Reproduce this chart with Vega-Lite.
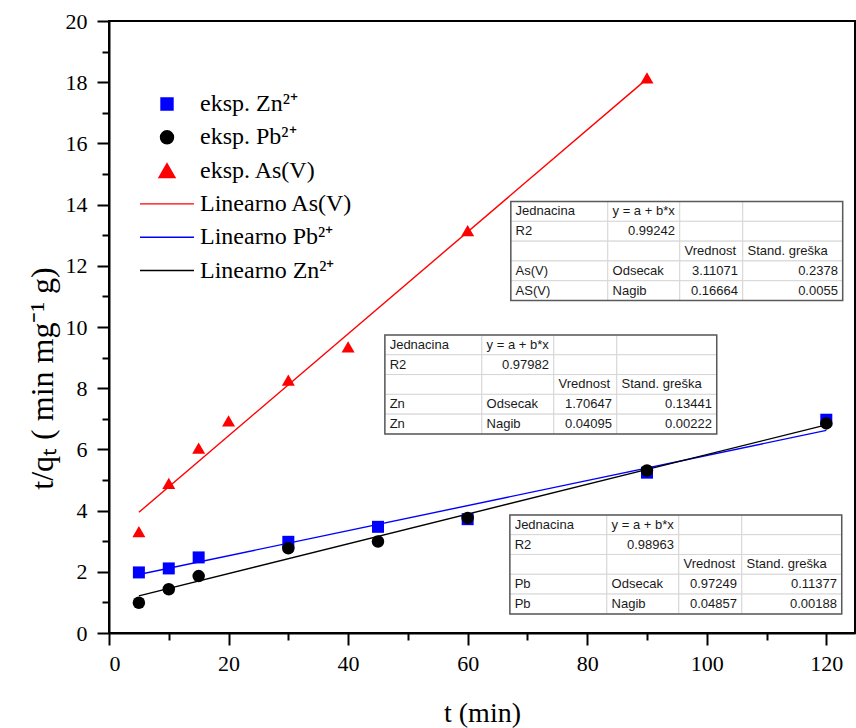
{
  "$schema": "https://vega.github.io/schema/vega-lite/v6.json",
  "width": 746,
  "height": 612,
  "autosize": {"type": "none"},
  "padding": {"left": 109, "top": 21, "right": 1, "bottom": 95},
  "background": "white",
  "datasets": {
    "pts": [
      {"series": "eksp. Zn²⁺", "t": 5, "q": 1.98},
      {"series": "eksp. Zn²⁺", "t": 10, "q": 2.11},
      {"series": "eksp. Zn²⁺", "t": 15, "q": 2.47},
      {"series": "eksp. Zn²⁺", "t": 30, "q": 2.98},
      {"series": "eksp. Zn²⁺", "t": 45, "q": 3.47},
      {"series": "eksp. Zn²⁺", "t": 60, "q": 3.72},
      {"series": "eksp. Zn²⁺", "t": 90, "q": 5.24},
      {"series": "eksp. Zn²⁺", "t": 120, "q": 6.97},
      {"series": "eksp. Pb²⁺", "t": 5, "q": 0.99},
      {"series": "eksp. Pb²⁺", "t": 10, "q": 1.43},
      {"series": "eksp. Pb²⁺", "t": 15, "q": 1.86},
      {"series": "eksp. Pb²⁺", "t": 30, "q": 2.77},
      {"series": "eksp. Pb²⁺", "t": 45, "q": 2.99},
      {"series": "eksp. Pb²⁺", "t": 60, "q": 3.76},
      {"series": "eksp. Pb²⁺", "t": 90, "q": 5.31},
      {"series": "eksp. Pb²⁺", "t": 120, "q": 6.85},
      {"series": "eksp. As(V)", "t": 5, "q": 3.31},
      {"series": "eksp. As(V)", "t": 10, "q": 4.89},
      {"series": "eksp. As(V)", "t": 15, "q": 6.04},
      {"series": "eksp. As(V)", "t": 20, "q": 6.93},
      {"series": "eksp. As(V)", "t": 30, "q": 8.26},
      {"series": "eksp. As(V)", "t": 40, "q": 9.35},
      {"series": "eksp. As(V)", "t": 60, "q": 13.15},
      {"series": "eksp. As(V)", "t": 90, "q": 18.14}
    ],
    "fits": [
      {"series": "Linearno As(V)", "t": 5, "q": 3.9439},
      {"series": "Linearno As(V)", "t": 90, "q": 18.1083},
      {"series": "Linearno Pb²⁺", "t": 5, "q": 1.9112},
      {"series": "Linearno Pb²⁺", "t": 120, "q": 6.6205},
      {"series": "Linearno Zn²⁺", "t": 5, "q": 1.2153},
      {"series": "Linearno Zn²⁺", "t": 120, "q": 6.8009}
    ],
    "cells": [
      {"tbl": "As", "row": 0, "col": 0, "text": "Jednacina"},
      {"tbl": "As", "row": 0, "col": 1, "text": "y = a + b*x"},
      {"tbl": "As", "row": 0, "col": 2, "text": ""},
      {"tbl": "As", "row": 0, "col": 3, "text": ""},
      {"tbl": "As", "row": 1, "col": 0, "text": "R2"},
      {"tbl": "As", "row": 1, "col": 1, "text": "0.99242"},
      {"tbl": "As", "row": 1, "col": 2, "text": ""},
      {"tbl": "As", "row": 1, "col": 3, "text": ""},
      {"tbl": "As", "row": 2, "col": 0, "text": ""},
      {"tbl": "As", "row": 2, "col": 1, "text": ""},
      {"tbl": "As", "row": 2, "col": 2, "text": "Vrednost"},
      {"tbl": "As", "row": 2, "col": 3, "text": "Stand. greška"},
      {"tbl": "As", "row": 3, "col": 0, "text": "As(V)"},
      {"tbl": "As", "row": 3, "col": 1, "text": "Odsecak"},
      {"tbl": "As", "row": 3, "col": 2, "text": "3.11071"},
      {"tbl": "As", "row": 3, "col": 3, "text": "0.2378"},
      {"tbl": "As", "row": 4, "col": 0, "text": "AS(V)"},
      {"tbl": "As", "row": 4, "col": 1, "text": "Nagib"},
      {"tbl": "As", "row": 4, "col": 2, "text": "0.16664"},
      {"tbl": "As", "row": 4, "col": 3, "text": "0.0055"},
      {"tbl": "Zn", "row": 0, "col": 0, "text": "Jednacina"},
      {"tbl": "Zn", "row": 0, "col": 1, "text": "y = a + b*x"},
      {"tbl": "Zn", "row": 0, "col": 2, "text": ""},
      {"tbl": "Zn", "row": 0, "col": 3, "text": ""},
      {"tbl": "Zn", "row": 1, "col": 0, "text": "R2"},
      {"tbl": "Zn", "row": 1, "col": 1, "text": "0.97982"},
      {"tbl": "Zn", "row": 1, "col": 2, "text": ""},
      {"tbl": "Zn", "row": 1, "col": 3, "text": ""},
      {"tbl": "Zn", "row": 2, "col": 0, "text": ""},
      {"tbl": "Zn", "row": 2, "col": 1, "text": ""},
      {"tbl": "Zn", "row": 2, "col": 2, "text": "Vrednost"},
      {"tbl": "Zn", "row": 2, "col": 3, "text": "Stand. greška"},
      {"tbl": "Zn", "row": 3, "col": 0, "text": "Zn"},
      {"tbl": "Zn", "row": 3, "col": 1, "text": "Odsecak"},
      {"tbl": "Zn", "row": 3, "col": 2, "text": "1.70647"},
      {"tbl": "Zn", "row": 3, "col": 3, "text": "0.13441"},
      {"tbl": "Zn", "row": 4, "col": 0, "text": "Zn"},
      {"tbl": "Zn", "row": 4, "col": 1, "text": "Nagib"},
      {"tbl": "Zn", "row": 4, "col": 2, "text": "0.04095"},
      {"tbl": "Zn", "row": 4, "col": 3, "text": "0.00222"},
      {"tbl": "Pb", "row": 0, "col": 0, "text": "Jednacina"},
      {"tbl": "Pb", "row": 0, "col": 1, "text": "y = a + b*x"},
      {"tbl": "Pb", "row": 0, "col": 2, "text": ""},
      {"tbl": "Pb", "row": 0, "col": 3, "text": ""},
      {"tbl": "Pb", "row": 1, "col": 0, "text": "R2"},
      {"tbl": "Pb", "row": 1, "col": 1, "text": "0.98963"},
      {"tbl": "Pb", "row": 1, "col": 2, "text": ""},
      {"tbl": "Pb", "row": 1, "col": 3, "text": ""},
      {"tbl": "Pb", "row": 2, "col": 0, "text": ""},
      {"tbl": "Pb", "row": 2, "col": 1, "text": ""},
      {"tbl": "Pb", "row": 2, "col": 2, "text": "Vrednost"},
      {"tbl": "Pb", "row": 2, "col": 3, "text": "Stand. greška"},
      {"tbl": "Pb", "row": 3, "col": 0, "text": "Pb"},
      {"tbl": "Pb", "row": 3, "col": 1, "text": "Odsecak"},
      {"tbl": "Pb", "row": 3, "col": 2, "text": "0.97249"},
      {"tbl": "Pb", "row": 3, "col": 3, "text": "0.11377"},
      {"tbl": "Pb", "row": 4, "col": 0, "text": "Pb"},
      {"tbl": "Pb", "row": 4, "col": 1, "text": "Nagib"},
      {"tbl": "Pb", "row": 4, "col": 2, "text": "0.04857"},
      {"tbl": "Pb", "row": 4, "col": 3, "text": "0.00188"}
    ]
  },
  "layer": [
    {
      "layer": [
        {
          "data": {"name": "fits"},
          "mark": {"type": "line", "strokeWidth": 1.4},
          "encoding": {
            "color": {"field": "series", "type": "nominal"}
          }
        },
        {
          "data": {"name": "pts"},
          "mark": {"type": "point", "filled": true, "opacity": 1},
          "encoding": {
            "color": {"field": "series", "type": "nominal"},
            "shape": {"field": "series", "type": "nominal"},
            "size": {"field": "series", "type": "nominal", "legend": null,
              "scale": {"domain": ["eksp. Zn²⁺", "eksp. Pb²⁺", "eksp. As(V)"], "range": [144, 169, 256]}}
          }
        }
      ],
      "encoding": {
        "x": {
          "field": "t", "type": "quantitative",
          "scale": {"domain": [0, 124.8], "nice": false, "zero": false},
          "axis": {
            "orient": "bottom", "values": [0, 20, 40, 60, 80, 100, 120],
            "title": "t (min)", "tickSize": 12, "labelPadding": 8,
            "labelFont": "Liberation Serif", "labelFontSize": 22,
            "titleY": 66, "titleBaseline": "top", "titleFont": "Liberation Serif", "titleFontSize": 28
          }
        },
        "y": {
          "field": "q", "type": "quantitative",
          "scale": {"domain": [0, 20], "nice": false, "zero": false},
          "axis": {
            "orient": "left", "values": [0, 2, 4, 6, 8, 10, 12, 14, 16, 18, 20],
            "title": "t/qₜ ( min mg⁻¹ g)", "tickSize": 12, "labelPadding": 10,
            "labelFont": "Liberation Serif", "labelFontSize": 22,
            "titleX": -67, "titleY": 357, "titleBaseline": "middle",
            "titleFont": "Liberation Serif", "titleFontSize": 32
          }
        },
        "color": {
          "field": "series", "type": "nominal",
          "scale": {
            "domain": ["eksp. Zn²⁺", "eksp. Pb²⁺", "eksp. As(V)", "Linearno As(V)", "Linearno Pb²⁺", "Linearno Zn²⁺"],
            "range": ["#0000ff", "#000000", "#ff0000", "#ff0000", "#0000ff", "#000000"]
          },
          "legend": {
            "title": null, "orient": "none", "legendX": 46, "legendY": 71,
            "padding": 0, "symbolSize": 144, "labelOffset": 21, "rowPadding": 9.3,
            "labelFont": "Liberation Serif", "labelFontSize": 24, "labelColor": "black", "labelLimit": 400,
            "encode": {
              "symbols": {
                "update": {
                  "size": {"signal": "datum.value === 'Linearno As(V)' || datum.value === 'Linearno Pb²⁺' || datum.value === 'Linearno Zn²⁺' ? 2916 : datum.value === 'eksp. Pb²⁺' ? 169 : datum.value === 'eksp. As(V)' ? 256 : 144"},
                  "stroke": {"scale": "color", "field": "value"},
                  "strokeWidth": {"value": 1.4},
                  "opacity": {"value": 1}
                }
              }
            }
          }
        },
        "shape": {
          "field": "series", "type": "nominal",
          "scale": {
            "domain": ["eksp. Zn²⁺", "eksp. Pb²⁺", "eksp. As(V)", "Linearno As(V)", "Linearno Pb²⁺", "Linearno Zn²⁺"],
            "range": ["square", "circle", "triangle-up", "stroke", "stroke", "stroke"]
          }
        }
      }
    },
    {
      "data": {"name": "pts"},
      "mark": {"type": "point", "opacity": 0},
      "encoding": {
        "x": {
          "field": "t", "type": "quantitative",
          "axis": {"orient": "bottom", "values": [10, 30, 50, 70, 90, 110], "tickSize": 7, "labels": false, "domain": false, "title": null}
        },
        "y": {
          "field": "q", "type": "quantitative",
          "axis": {"orient": "left", "values": [1, 3, 5, 7, 9, 11, 13, 15, 17, 19], "tickSize": 7, "labels": false, "domain": false, "title": null}
        }
      }
    },
    {
      "data": {"name": "cells"},
      "transform": [
        {"calculate": "datum.tbl === 'As' ? 67.22 : datum.tbl === 'Zn' ? 46.15 : 67.06", "as": "ax"},
        {"calculate": "datum.tbl === 'As' ? 14.1 : datum.tbl === 'Zn' ? 9.74 : 3.86", "as": "ay"},
        {"calculate": "datum.ax + [0, 16.22, 28.26, 38.8][datum.col]", "as": "x1"},
        {"calculate": "datum.ax + [16.22, 28.26, 38.8, 55.52][datum.col]", "as": "x2"},
        {"calculate": "datum.ay - datum.row * 0.647", "as": "y1"},
        {"calculate": "datum.ay - (datum.row + 1) * 0.647", "as": "y2"},
        {"calculate": "datum.ay - (datum.row + 0.5) * 0.647", "as": "yc"}
      ],
      "layer": [
        {
          "mark": {"type": "rect", "fill": "white", "stroke": "#d6d6d6", "strokeWidth": 1},
          "encoding": {
            "x": {"field": "x1", "type": "quantitative", "axis": null},
            "x2": {"field": "x2"},
            "y": {"field": "y1", "type": "quantitative", "axis": null},
            "y2": {"field": "y2"}
          }
        },
        {
          "transform": [
            {"aggregate": [
              {"op": "min", "field": "x1", "as": "bx1"},
              {"op": "max", "field": "x2", "as": "bx2"},
              {"op": "max", "field": "y1", "as": "by1"},
              {"op": "min", "field": "y2", "as": "by2"}
            ], "groupby": ["tbl"]}
          ],
          "mark": {"type": "rect", "fillOpacity": 0, "stroke": "#5a5a5a", "strokeWidth": 1.5},
          "encoding": {
            "x": {"field": "bx1", "type": "quantitative", "axis": null},
            "x2": {"field": "bx2"},
            "y": {"field": "by1", "type": "quantitative", "axis": null},
            "y2": {"field": "by2"}
          }
        },
        {
          "transform": [
            {"filter": "datum.text !== '' && !test(/^[0-9.]+$/, datum.text)"},
            {"calculate": "datum.x1 + 0.8", "as": "xt"}
          ],
          "mark": {"type": "text", "align": "left", "baseline": "middle", "font": "Liberation Sans", "fontSize": 13, "fill": "#1a1a1a"},
          "encoding": {
            "x": {"field": "xt", "type": "quantitative", "axis": null},
            "y": {"field": "yc", "type": "quantitative", "axis": null},
            "text": {"field": "text"}
          }
        },
        {
          "transform": [
            {"filter": "test(/^[0-9.]+$/, datum.text)"},
            {"calculate": "datum.x2 - 0.8", "as": "xt"}
          ],
          "mark": {"type": "text", "align": "right", "baseline": "middle", "font": "Liberation Sans", "fontSize": 13, "fill": "#1a1a1a"},
          "encoding": {
            "x": {"field": "xt", "type": "quantitative", "axis": null},
            "y": {"field": "yc", "type": "quantitative", "axis": null},
            "text": {"field": "text"}
          }
        }
      ]
    }
  ],
  "resolve": {"axis": {"x": "independent", "y": "independent"}},
  "config": {
    "font": "Liberation Serif",
    "view": {"stroke": "black", "strokeWidth": 2},
    "axis": {
      "grid": false, "domainColor": "black", "domainWidth": 2, "tickColor": "black", "tickWidth": 2,
      "labelFont": "Liberation Serif", "labelFontSize": 22, "labelColor": "black",
      "titleFont": "Liberation Serif", "titleFontWeight": "normal", "titleColor": "black"
    }
  }
}
